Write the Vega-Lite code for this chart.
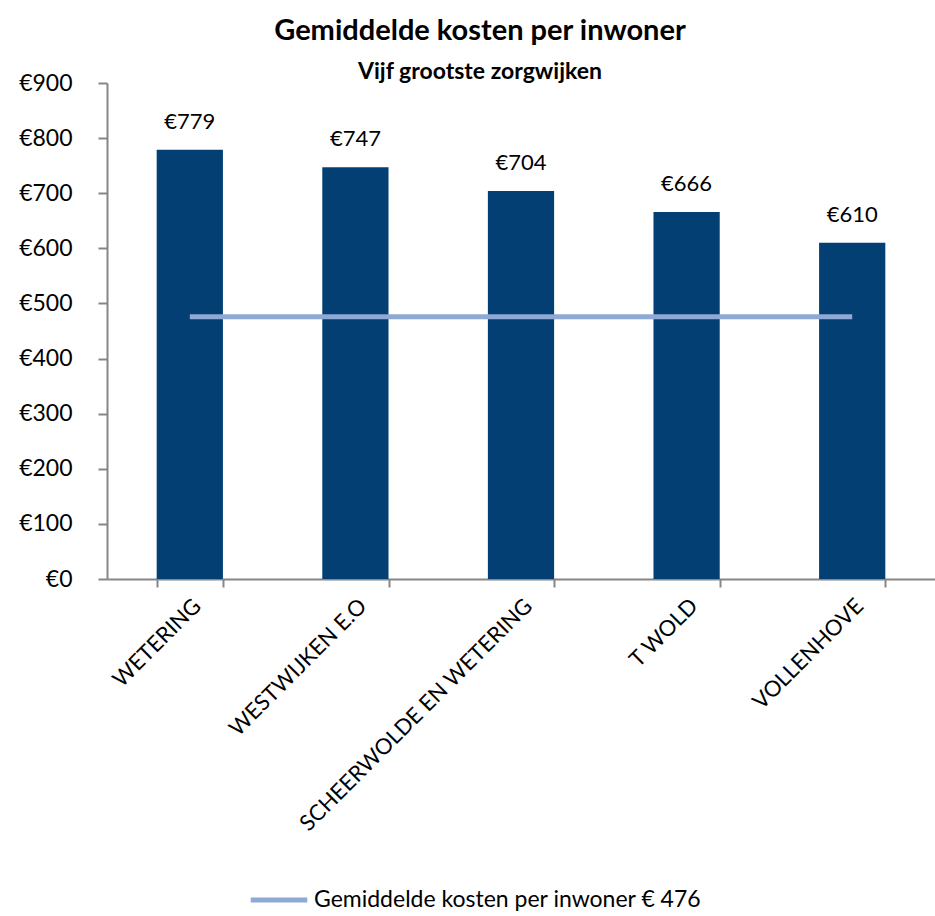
{
  "$schema": "https://vega.github.io/schema/vega-lite/v6.json",
  "autosize": {"type": "none"},
  "width": 828,
  "height": 496,
  "padding": {"left": 107, "top": 83, "right": 0, "bottom": 337},
  "background": "white",
  "config": {
    "font": "Lato",
    "view": {"stroke": null},
    "axis": {"grid": false, "domainColor": "#868686", "tickColor": "#868686", "domainWidth": 2, "tickWidth": 2, "labelColor": "#000000", "labelFont": "Lato", "titleFont": "Lato"}
  },
  "title": {
    "text": "Gemiddelde kosten per inwoner",
    "subtitle": "Vijf grootste zorgwijken",
    "anchor": "middle",
    "dx": -41,
    "offset": -12,
    "font": "Lato",
    "fontSize": 29,
    "fontWeight": "bold",
    "color": "#000000",
    "subtitleFont": "Lato",
    "subtitleFontSize": 23,
    "subtitleFontWeight": "bold",
    "subtitleColor": "#000000",
    "subtitlePadding": 15
  },
  "data": {
    "values": [
      {"wijk": "WETERING", "kosten": 779, "label": "€779", "gemiddelde": 476, "serie": "Gemiddelde kosten per inwoner  € 476"},
      {"wijk": "WESTWIJKEN E.O", "kosten": 747, "label": "€747", "gemiddelde": 476, "serie": "Gemiddelde kosten per inwoner  € 476"},
      {"wijk": "SCHEERWOLDE EN WETERING", "kosten": 704, "label": "€704", "gemiddelde": 476, "serie": "Gemiddelde kosten per inwoner  € 476"},
      {"wijk": "T WOLD", "kosten": 666, "label": "€666", "gemiddelde": 476, "serie": "Gemiddelde kosten per inwoner  € 476"},
      {"wijk": "VOLLENHOVE", "kosten": 610, "label": "€610", "gemiddelde": 476, "serie": "Gemiddelde kosten per inwoner  € 476"}
    ]
  },
  "encoding": {
    "x": {
      "field": "wijk",
      "type": "nominal",
      "sort": null,
      "scale": {"paddingInner": 0.6, "paddingOuter": 0.3},
      "axis": {
        "title": null,
        "orient": "bottom",
        "labelAngle": -45,
        "labelFontSize": 22,
        "tickBand": "extent",
        "tickSize": 8,
        "labelPadding": 8,
        "labelLimit": 500
      }
    }
  },
  "layer": [
    {
      "mark": {"type": "bar", "color": "#033F73"},
      "encoding": {
        "y": {
          "field": "kosten",
          "type": "quantitative",
          "scale": {"domain": [0, 900]},
          "axis": {
            "title": null,
            "values": [0, 100, 200, 300, 400, 500, 600, 700, 800, 900],
            "labelExpr": "'€' + datum.value",
            "labelFontSize": 23,
            "tickSize": 9,
            "labelPadding": 26
          }
        }
      }
    },
    {
      "mark": {"type": "text", "baseline": "bottom", "dy": -16, "fontSize": 22, "font": "Lato", "color": "#000000"},
      "encoding": {
        "y": {"field": "kosten", "type": "quantitative"},
        "text": {"field": "label", "type": "nominal"}
      }
    },
    {
      "mark": {"type": "line", "strokeWidth": 5},
      "encoding": {
        "y": {"field": "gemiddelde", "type": "quantitative"},
        "color": {
          "field": "serie",
          "type": "nominal",
          "scale": {"range": ["#8EA9D3"]},
          "legend": {
            "title": null,
            "orient": "none",
            "legendX": 141,
            "legendY": 786,
            "symbolType": "stroke",
            "symbolSize": 3200,
            "symbolStrokeWidth": 5,
            "labelFontSize": 23,
            "labelFont": "Lato",
            "labelColor": "#000000",
            "labelOffset": 4,
            "labelLimit": 600
          }
        }
      }
    }
  ]
}
